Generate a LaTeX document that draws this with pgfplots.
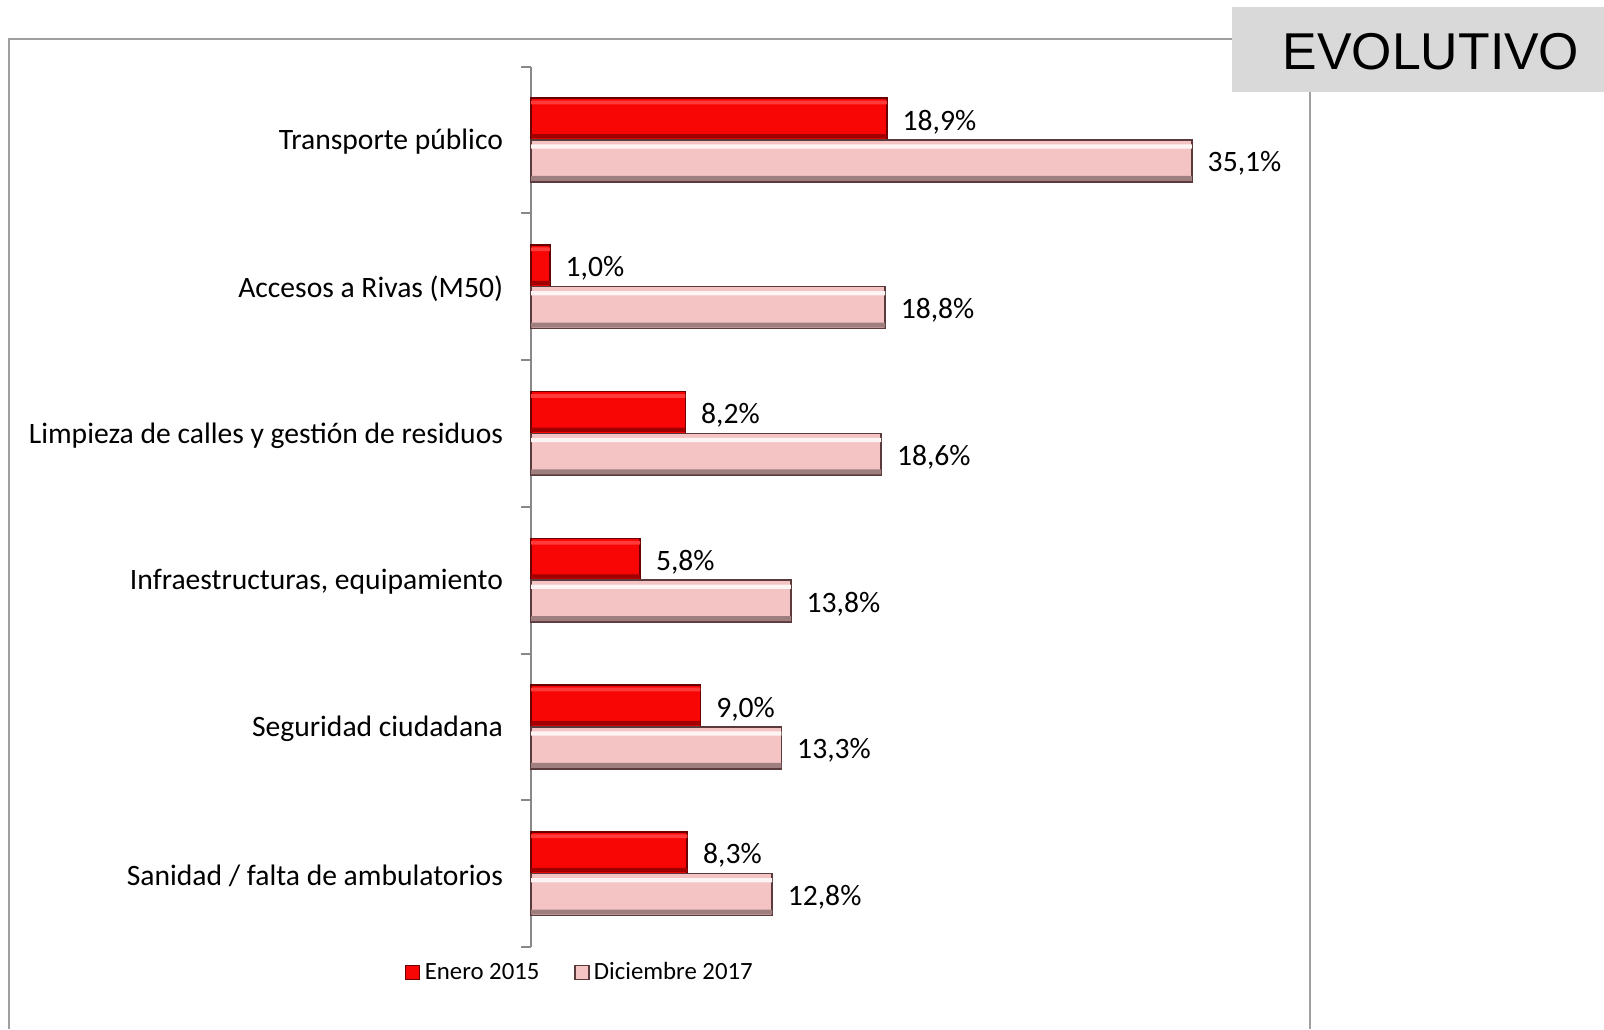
\documentclass[border=0pt]{standalone}
\usepackage{pgfplots}
\pgfplotsset{compat=1.18}
\usepackage{pgfplotstable}
\usepackage{fontspec}
\setmainfont{Carlito}
\newfontfamily\arialf{Liberation Sans}
\definecolor{redmain}{HTML}{F80606}
\definecolor{reddark}{HTML}{6A0000}
\definecolor{redshadow}{HTML}{A00000}
\definecolor{redlight}{HTML}{FF3A3A}
\definecolor{pinkmain}{HTML}{F4C4C4}
\definecolor{pinkdark}{HTML}{5A3A3A}
\definecolor{pinkshadow}{HTML}{9E7E7E}
\definecolor{pinklight}{HTML}{FFF4F4}
\definecolor{framegray}{HTML}{A0A0A0}
\definecolor{axisgray}{HTML}{888888}
\definecolor{boxgray}{HTML}{D9D9D9}

\pgfplotstableread{
y a b
0 8.3 12.8
1 9.0 13.3
2 5.8 13.8
3 8.2 18.6
4 1.0 18.8
5 18.9 35.1
}\data

\begin{document}
\begin{tikzpicture}
\useasboundingbox (0,0) rectangle (802pt,-514.5pt);
\fill[boxgray] (616pt,-3.5pt) rectangle (802pt,-46pt);
\node[font=\arialf\fontsize{25.9}{30}\selectfont, text=black] at (715.5pt,-26pt) {EVOLUTIVO};
\draw[framegray, line width=1pt] (616pt,-19.5pt) -- (4.5pt,-19.5pt) -- (4.5pt,-514.5pt);
\draw[framegray, line width=1pt] (655pt,-46pt) -- (655pt,-514.5pt);
\begin{axis}[
  at={(265.5pt,-473.5pt)}, anchor=south west,
  scale only axis, width=376.6pt, height=440.25pt,
  xmin=0, xmax=40, ymin=-0.5, ymax=5.5,
  enlargelimits=false, clip=false,
  axis y line*=left, axis x line=none,
  y axis line style={axisgray, line width=1pt, -},
  ytick={0,1,2,3,4,5},
  yticklabels={Sanidad / falta de ambulatorios, Seguridad ciudadana, {Infraestructuras, equipamiento}, Limpieza de calles y gestión de residuos, Accesos a Rivas (M50), Transporte público},
  minor ytick={-0.5,0.5,1.5,2.5,3.5,4.5,5.5},
  major tick length=0pt, minor tick length=5pt, tick align=outside,
  minor tick style={axisgray, line width=1pt},
  yticklabel style={font=\fontsize{14.8}{17}\selectfont, inner sep=0pt, anchor=east, xshift=-13.8pt, yshift=-1pt, text=black},
  point meta=x,
  nodes near coords={\pgfmathprintnumber[fixed,fixed zerofill,precision=1,use comma,assume math mode=true]{\pgfplotspointmeta}\%},
  legend columns=2,
  legend style={at={(0.0664,-0.029)}, anchor=center, draw=none, fill=none,
    font=\fontsize{12.4}{14}\selectfont,
    /tikz/every even column/.append style={column sep=15pt},
    nodes={inner sep=2.2pt}},
  legend image code/.code={\fill[#1] (0pt,-3.5pt) rectangle (7pt,3.5pt);},
]
% Enero 2015
\addplot[xbar, bar width=0.285, bar shift=0.1425, fill=redmain, draw=reddark, line width=0.8pt,
  every node near coord/.append style={font=\fontsize{14.8}{17}\selectfont, anchor=west, inner sep=0pt, xshift=7.5pt, yshift=9pt, text=black}]
  table[x=a, y=y]{\data};
\addlegendentry{Enero 2015}
\addplot[xbar, forget plot, bar width=0.03, bar shift=0.025, fill=redshadow, draw=none, nodes near coords={}] table[x=a, y=y]{\data};
\addplot[xbar, forget plot, bar width=0.025, bar shift=0.255, fill=redlight, draw=none, nodes near coords={}] table[x=a, y=y]{\data};
% Diciembre 2017
\addplot[xbar, bar width=0.285, bar shift=-0.1425, fill=pinkmain, draw=pinkdark, line width=0.8pt,
  every node near coord/.append style={font=\fontsize{14.8}{17}\selectfont, anchor=west, inner sep=0pt, xshift=7.5pt, yshift=-11.9pt, text=black}]
  table[x=b, y=y]{\data};
\addlegendentry{Diciembre 2017}
\addplot[xbar, forget plot, bar width=0.035, bar shift=-0.262, fill=pinkshadow, draw=none, nodes near coords={}] table[x=b, y=y]{\data};
\addplot[xbar, forget plot, bar width=0.03, bar shift=-0.045, fill=pinklight, draw=none, nodes near coords={}] table[x=b, y=y]{\data};
\end{axis}
\end{tikzpicture}
\end{document}
